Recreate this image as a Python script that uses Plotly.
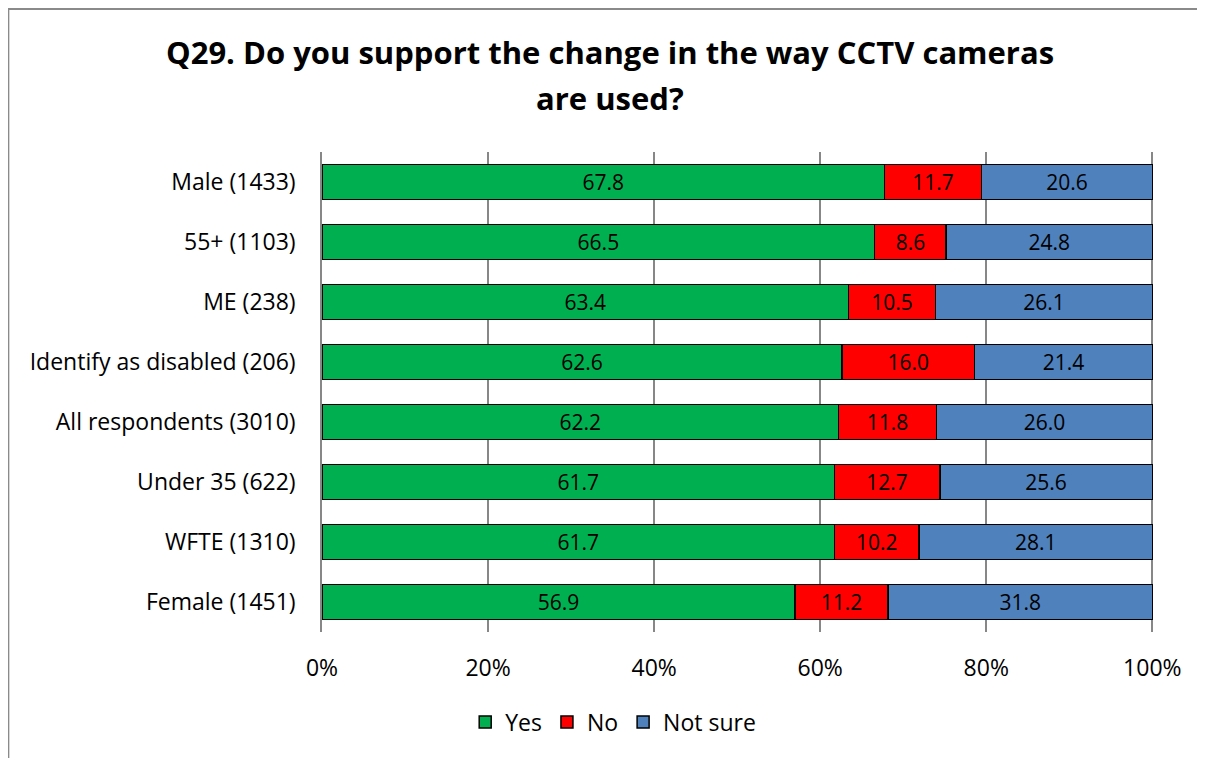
import plotly.graph_objects as go

categories = ["Male (1433)", "55+ (1103)", "ME (238)", "Identify as disabled (206)",
              "All respondents (3010)", "Under 35 (622)", "WFTE (1310)", "Female (1451)"]
yes = [67.8, 66.5, 63.4, 62.6, 62.2, 61.7, 61.7, 56.9]
no = [11.7, 8.6, 10.5, 16.0, 11.8, 12.7, 10.2, 11.2]
not_sure = [20.6, 24.8, 26.1, 21.4, 26.0, 25.6, 28.1, 31.8]
x_ticks = [0, 20, 40, 60, 80, 100]
title_lines = ["Q29. Do you support the change in the way CCTV cameras", "are used?"]

FONT = "Open Sans"
series = [("Yes", yes, "#00B050"), ("No", no, "#FF0000"), ("Not sure", not_sure, "#4F81BD")]

fig = go.Figure()
for name, vals, col in series:
    fig.add_trace(go.Bar(
        y=categories, x=vals, name=name, orientation="h",
        marker=dict(color=col, line=dict(color="black", width=1.5)),
        text=[f"{v:.1f}" for v in vals], textposition="inside",
        insidetextanchor="middle", constraintext="none",
        textfont=dict(family=FONT, size=21, color="black"),
    ))

annotations = [
    dict(text=f"<b>{title_lines[0]}</b>", xref="paper", yref="paper", x=0.3458, y=1.2083,
         xanchor="center", yanchor="middle", showarrow=False,
         font=dict(family=FONT, size=31, color="black")),
    dict(text=f"<b>{title_lines[1]}</b>", xref="paper", yref="paper", x=0.3458, y=1.1125,
         xanchor="center", yanchor="middle", showarrow=False,
         font=dict(family=FONT, size=31, color="black")),
]

fig.update_layout(
    barmode="stack", barnorm="percent", bargap=0.42,
    width=1197, height=750,
    paper_bgcolor="white", plot_bgcolor="white",
    margin=dict(l=314, r=51, t=144, b=126),
    font=dict(family=FONT, size=23, color="black"),
    legend=dict(orientation="h", x=0.35, xanchor="center", y=-0.1875, yanchor="middle",
                font=dict(family=FONT, size=23), traceorder="normal", itemwidth=30),
    xaxis=dict(range=[0, 100.2], tickvals=x_ticks, ticktext=[f"{t}%" for t in x_ticks],
               showgrid=True, gridcolor="#878787", gridwidth=1.5, zeroline=False,
               showline=False, ticks="", ticklabelstandoff=20, fixedrange=True),
    yaxis=dict(categoryorder="array", categoryarray=categories, autorange="reversed",
               showline=True, linecolor="#878787", linewidth=1.5, showgrid=False,
               ticks="", ticklabelstandoff=20),
    annotations=annotations,
    shapes=[
        dict(type="line", xref="paper", yref="paper", x0=-0.378, x1=1.1, y0=1.298, y1=1.298,
             line=dict(color="#8a8a8a", width=2)),
        dict(type="line", xref="paper", yref="paper", x0=-0.377, x1=-0.377, y0=1.3, y1=-0.3,
             line=dict(color="#8a8a8a", width=2)),
    ],
)

fig.write_html("out.html")
